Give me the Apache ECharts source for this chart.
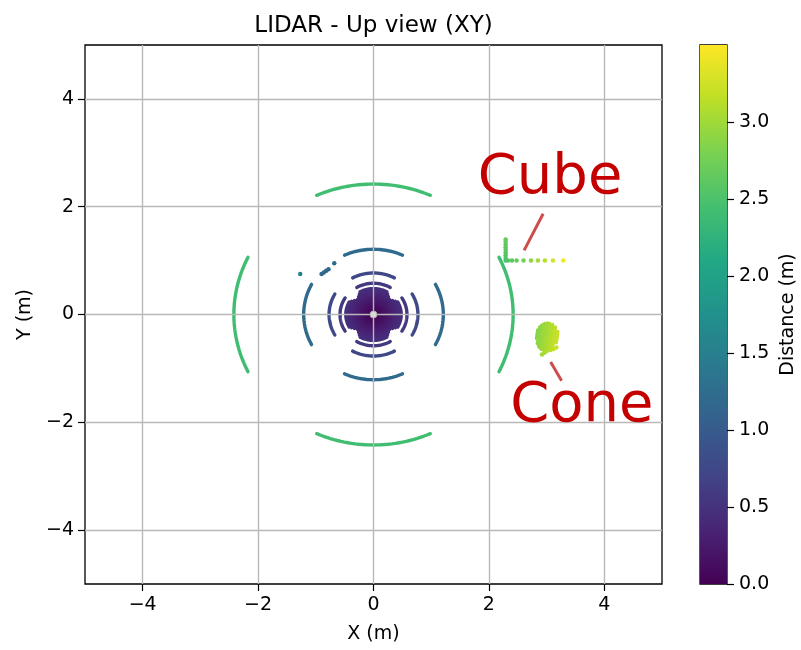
<!DOCTYPE html>
<html><head><meta charset="utf-8">
<script src="https://cdn.jsdelivr.net/npm/echarts@6/dist/echarts.min.js"></script>
<style>html,body{margin:0;padding:0;background:#fff}#c{width:801px;height:650px}</style>
</head><body><div id="c"></div>
<script>
// ---- data ----
// Ground rings around the sensor (m). Arcs are centred on the 4 axis directions.
const ringRadius   = [2.42, 1.21, 0.77, 0.58, 0.48, 0.45, 0.42, 0.39, 0.36, 0.33, 0.30, 0.27, 0.24, 0.21, 0.18, 0.15, 0.12, 0.09, 0.06, 0.03];
const ringSideHalf = [26, 27.5, 29.5, 32, 29, 33, 38, 45, 45, 45, 45, 45, 45, 45, 45, 45, 45, 45, 45, 45];
const ringTopHalf  = [24, 24.5, 28, 30, 29, 33, 38, 45, 45, 45, 45, 45, 45, 45, 45, 45, 45, 45, 45, 45];
const ringDist     = [2.42, 1.21, 0.77, 0.58, 0.48, 0.45, 0.42, 0.39, 0.36, 0.33, 0.30, 0.27, 0.24, 0.21, 0.18, 0.15, 0.12, 0.09, 0.06, 0.03];
// Cone: ring stripes (constant distance from the sensor) across the cone
const coneRadius   = [2.86, 2.89, 2.92, 2.95, 2.98, 3.02, 3.06, 3.11, 3.16, 3.21];
const coneStart    = [-9.0, -10.8, -11.7, -12.2, -12.5, -12.6, -12.5, -12.0, -11.0, -9.4];
const coneEnd      = [-5.8, -4.6, -3.9, -3.5, -3.2, -3.0, -3.1, -3.4, -4.2, -5.6];
const coneDist     = [2.86, 2.89, 2.92, 2.95, 2.98, 3.02, 3.06, 3.11, 3.16, 3.21];
// Single points (cube edge, stray points, dots under the cone)
const ptX    = [2.29, 2.29, 2.29, 2.29, 2.29, 2.29, 2.29, 2.29, 2.29, 2.33, 2.40, 2.48, 2.60, 2.73, 2.85, 2.97, 3.11, 3.29, -1.27, -0.90, -0.86, -0.82, -0.78, -0.68, 2.92, 2.96, 3.00, 3.07, 3.12, 3.17];
const ptY    = [1.00, 1.05, 1.10, 1.15, 1.20, 1.25, 1.30, 1.35, 1.39, 1.00, 1.00, 1.00, 1.00, 1.00, 1.00, 1.00, 1.00, 1.00, 0.75, 0.75, 0.78, 0.81, 0.84, 0.95, -0.74, -0.71, -0.68, -0.66, -0.64, -0.61];
const ptDist = [2.50, 2.52, 2.54, 2.56, 2.59, 2.61, 2.64, 2.66, 2.68, 2.54, 2.60, 2.67, 2.78, 2.91, 3.02, 3.13, 3.27, 3.44, 1.47, 1.17, 1.16, 1.15, 1.15, 1.17, 3.01, 3.04, 3.08, 3.14, 3.18, 3.23];
const distMax = 3.5;
const xTicks = [-4, -2, 0, 2, 4];
const yTicks = [-4, -2, 0, 2, 4];
const cbTicks = [0, 0.5, 1.0, 1.5, 2.0, 2.5, 3.0];
const annoText = ['Cube', 'Cone'];
const annoX = [3.06, 3.61];
const annoY = [2.52, -1.70];
const annoLineFrom = [[2.94, 1.87], [3.07, -0.88]];
const annoLineTo   = [[2.61, 1.19], [3.26, -1.23]];

const viridis = ['#440154','#482475','#414487','#355f8d','#2a788e','#21918c','#22a884','#44bf70','#7ad151','#bddf26','#fde725'];
const FONT = 'DejaVu Sans';
const minus = v => String(v).replace('-', '\u2212');

// arcs: [cx, cy, r, a0, a1, dist]
const arcData = [];
ringRadius.forEach((r, i) => {
  [0, 90, 180, 270].forEach(c => {
    const h = (c === 0 || c === 180) ? ringSideHalf[i] : ringTopHalf[i];
    arcData.push([0, 0, r, c - h, c + h, ringDist[i]]);
  });
});
coneRadius.forEach((r, i) => arcData.push([0, 0, r, coneStart[i], coneEnd[i], coneDist[i]]));
const ptData = ptX.map((x, i) => [x, ptY[i], ptDist[i]]);
const annoData = annoText.map((t, i) => ({ name: t, value: [annoX[i], annoY[i]] }));
const annoLines = annoLineFrom.map((p, i) => [{ coord: p }, { coord: annoLineTo[i] }]);

const tickStyle = { fontFamily: FONT, fontSize: 19, color: '#000' };
const nameStyle = { fontFamily: FONT, fontSize: 19, color: '#000' };

const chart = echarts.init(document.getElementById('c'), null, { renderer: 'canvas' });
chart.setOption({
  animation: false,
  backgroundColor: '#fff',
  textStyle: { fontFamily: FONT },
  title: {
    text: 'LIDAR - Up view (XY)', left: 373.5, top: 15, textAlign: 'center', padding: 0,
    textStyle: { fontFamily: FONT, fontSize: 23, fontWeight: 'normal', color: '#000' }
  },
  grid: [
    { left: 85, right: 139, top: 45, bottom: 66, show: true, borderColor: '#000', borderWidth: 1.3, backgroundColor: 'transparent' },
    { left: 700, width: 27, top: 45, bottom: 66, show: true, borderColor: '#000', borderWidth: 1.3 }
  ],
  xAxis: [
    { type: 'value', gridIndex: 0, min: -5, max: 5, z: 3,
      name: 'X (m)', nameLocation: 'middle', nameGap: 41, nameTextStyle: nameStyle,
      axisLine: { show: false, onZero: false },
      axisTick: { show: true, length: 7, lineStyle: { color: '#000', width: 1.2 }, customValues: xTicks },
      axisLabel: Object.assign({ customValues: xTicks, formatter: minus, margin: 12 }, tickStyle),
      splitLine: { show: true, lineStyle: { color: '#b8b8b8', width: 1.4 } }
    },
    { type: 'category', gridIndex: 1, data: ['c'], show: false }
  ],
  yAxis: [
    { type: 'value', gridIndex: 0, min: -5, max: 5, z: 3,
      name: 'Y (m)', nameLocation: 'middle', nameGap: 50, nameTextStyle: nameStyle,
      axisLine: { show: false, onZero: false },
      axisTick: { show: true, length: 7, lineStyle: { color: '#000', width: 1.2 }, customValues: yTicks },
      axisLabel: Object.assign({ customValues: yTicks, formatter: minus, margin: 11 }, tickStyle),
      splitLine: { show: true, lineStyle: { color: '#b8b8b8', width: 1.4 } }
    },
    { type: 'value', gridIndex: 1, min: 0, max: distMax, position: 'right',
      name: 'Distance (m)', nameLocation: 'middle', nameGap: 52, nameTextStyle: nameStyle,
      axisLine: { show: false },
      axisTick: { show: true, length: 7, lineStyle: { color: '#000', width: 1.2 }, customValues: cbTicks },
      axisLabel: Object.assign({ customValues: cbTicks, formatter: v => v.toFixed(1), margin: 12 }, tickStyle),
      splitLine: { show: false }
    }
  ],
  visualMap: [
    { type: 'continuous', show: false, min: 0, max: distMax, dimension: 5, seriesIndex: [0], inRange: { color: viridis } },
    { type: 'continuous', show: false, min: 0, max: distMax, dimension: 2, seriesIndex: [1], inRange: { color: viridis } }
  ],
  series: [
    { type: 'custom', xAxisIndex: 0, yAxisIndex: 0, coordinateSystem: 'cartesian2d',
      dimensions: ['cx', 'cy', 'r', 'a0', 'a1', 'dist'], encode: { x: 0, y: 1 },
      data: arcData, z: 2,
      renderItem: function (params, api) {
        const cx = api.value(0), cy = api.value(1), r = api.value(2), a0 = api.value(3), a1 = api.value(4);
        const n = Math.max(2, Math.ceil((a1 - a0) / 1.5));
        const pts = [];
        for (let i = 0; i <= n; i++) {
          const a = (a0 + (a1 - a0) * i / n) * Math.PI / 180;
          pts.push(api.coord([cx + r * Math.cos(a), cy + r * Math.sin(a)]));
        }
        return { type: 'polyline', shape: { points: pts }, style: { stroke: api.visual('color'), lineWidth: 3.4, fill: null, lineCap: 'round', lineJoin: 'round' } };
      }
    },
    { type: 'scatter', xAxisIndex: 0, yAxisIndex: 0, data: ptData, symbol: 'circle', symbolSize: 4.5, z: 2,
      itemStyle: { opacity: 1 } },
    { type: 'scatter', xAxisIndex: 0, yAxisIndex: 0, data: [[0, 0]], symbolSize: 7, z: 4,
      itemStyle: { color: '#d8d8d8', borderColor: '#a8a8a8', borderWidth: 1, opacity: 1 } },
    { type: 'scatter', xAxisIndex: 0, yAxisIndex: 0, data: annoData, symbolSize: 0, z: 10,
      itemStyle: { color: '#c40000', opacity: 1 },
      label: { show: true, position: 'inside', formatter: p => p.name, fontFamily: FONT, fontSize: 56, color: '#c40000',
        opacity: 1, textBorderWidth: 0, textBorderColor: 'transparent', align: 'center', verticalAlign: 'middle' },
      markLine: { silent: true, symbol: ['none', 'none'], animation: false, label: { show: false },
        lineStyle: { color: '#c83a3a', opacity: 0.9, width: 3, type: 'solid' }, data: annoLines }
    },
    { type: 'bar', xAxisIndex: 1, yAxisIndex: 1, data: [distMax], barWidth: '100%', silent: true,
      itemStyle: { color: new echarts.graphic.LinearGradient(0, 1, 0, 0, viridis.map((c, i) => ({ offset: i / (viridis.length - 1), color: c }))) } }
  ]
});
</script></body></html>
